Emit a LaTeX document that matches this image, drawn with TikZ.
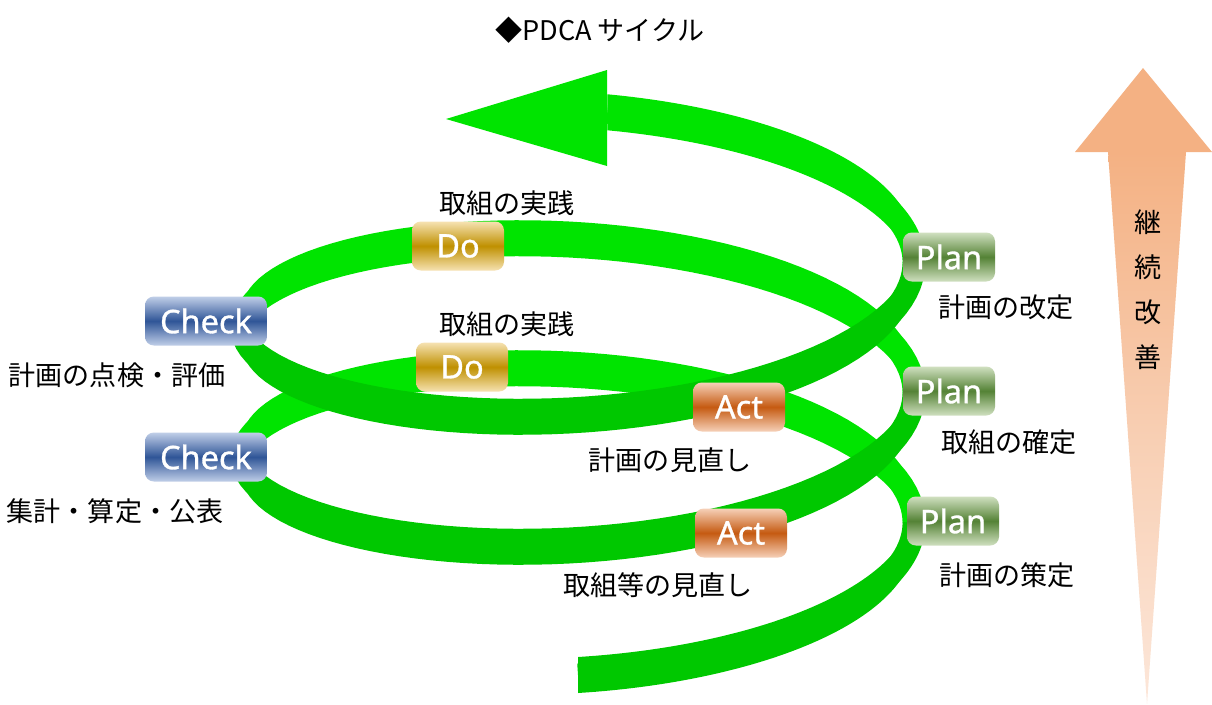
\documentclass[tikz,border=0pt]{standalone}
\usepackage{fontspec}
\setmainfont{Noto Sans CJK JP}
\newfontfamily\stagefont[FakeBold=1]{Noto Sans}
\usetikzlibrary{positioning}

\definecolor{bandback}{RGB}{0,228,0}
\definecolor{bandfront}{RGB}{0,200,0}
\definecolor{checklight}{RGB}{192,206,232}
\definecolor{checkdark}{RGB}{47,85,151}
\definecolor{planlight}{RGB}{208,224,192}
\definecolor{plandark}{RGB}{84,130,53}
\definecolor{dolight}{RGB}{246,226,178}
\definecolor{dodark}{RGB}{191,144,0}
\definecolor{actlight}{RGB}{246,208,184}
\definecolor{actdark}{RGB}{197,90,17}
\definecolor{arrowtop}{RGB}{244,177,131}
\definecolor{arrowmid}{RGB}{248,206,178}
\definecolor{arrowpale}{RGB}{252,231,218}

\tikzset{
  stagebox/.style={rounded corners=5pt, minimum width=1.84cm, minimum height=0.98cm,
    inner sep=0pt, text=white, font=\stagefont\fontsize{18.5pt}{20pt}\selectfont},
  checkbox/.style={stagebox, minimum width=2.44cm, top color=checklight, bottom color=checklight, middle color=checkdark},
  planbox/.style={stagebox, top color=planlight, bottom color=planlight, middle color=plandark},
  dobox/.style={stagebox, top color=dolight, bottom color=dolight, middle color=dodark},
  actbox/.style={stagebox, top color=actlight, bottom color=actlight, middle color=actdark},
  caption/.style={inner sep=0pt, font=\fontsize{15.4pt}{18pt}\selectfont},
  backband/.style={line width=13pt, color=bandback},
  frontband/.style={line width=13pt, color=bandfront}
}

\begin{document}
\begin{tikzpicture}[x=0.02cm, y=-0.02cm]
    \fill[white] (0,0) rectangle (1212,704);
    \useasboundingbox (0,0) rectangle (1212,704);

    % coil: back halves first, front halves over them
    \foreach \a/\b in {90/270, 450/630, 810/895} {
        \fill[bandback] plot[domain=\a:\b, samples=60] ({578+336*sin(\x)}, {537+120*cos(\x)-0.36111*\x})
            -- plot[domain=\b:\a, samples=60] ({578+336*sin(\x)}, {573+120*cos(\x)-0.36111*\x}) -- cycle;
        \draw[backband] plot[domain=\a:\b, samples=60] ({578+336*sin(\x)}, {555+120*cos(\x)-0.36111*\x});
    }
    \fill[bandback] (607,70) -- (446,119) -- (607,166) -- cycle;
    \foreach \a/\b in {0/90, 270/450, 630/810} {
        \fill[bandfront] plot[domain=\a:\b, samples=60] ({578+336*sin(\x)}, {537+120*cos(\x)-0.36111*\x})
            -- plot[domain=\b:\a, samples=60] ({578+336*sin(\x)}, {573+120*cos(\x)-0.36111*\x}) -- cycle;
        \draw[frontband] plot[domain=\a:\b, samples=60] ({578+336*sin(\x)}, {555+120*cos(\x)-0.36111*\x});
    }

    % stages
    \node[checkbox] (check1) at (206,321) {Check};
    \node[checkbox] (check2) at (206,457) {Check};
    \node[dobox] (do1) at (458,246) {Do};
    \node[dobox] (do2) at (462,367) {Do};
    \node[actbox] (act1) at (739,407) {Act};
    \node[actbox] (act2) at (741,533) {Act};
    \node[planbox] (plan1) at (949,257) {Plan};
    \node[planbox] (plan2) at (949,391) {Plan};
    \node[planbox] (plan3) at (953,521) {Plan};

    \node[caption] (title) at (600,30) {◆PDCA サイクル};
    \node[caption] (do1txt) at (507,203) {取組の実践};
    \node[caption] (do2txt) at (507,324) {取組の実践};
    \node[caption] (check1txt) at (117,375) {計画の点検・評価};
    \node[caption] (check2txt) at (115,511) {集計・算定・公表};
    \node[caption] (act1txt) at (670,460) {計画の見直し};
    \node[caption] (act2txt) at (658,585) {取組等の見直し};
    \node[caption] (plan1txt) at (1006,307) {計画の改定};
    \node[caption] (plan2txt) at (1009,442) {取組の確定};
    \node[caption] (plan3txt) at (1007,575) {計画の策定};

    % improvement arrow
    \shade[top color=arrowtop, bottom color=arrowpale, middle color=arrowmid] (1108,152) -- (1186,152) -- (1147,704) -- cycle;
    \fill[arrowtop] (1075,152) -- (1143,68) -- (1212,152) -- cycle;
    \node[caption, align=center, font=\fontsize{15.4pt}{25.6pt}\selectfont] (kaizen) at (1148,290) {継\\続\\改\\善};
\end{tikzpicture}
\end{document}
